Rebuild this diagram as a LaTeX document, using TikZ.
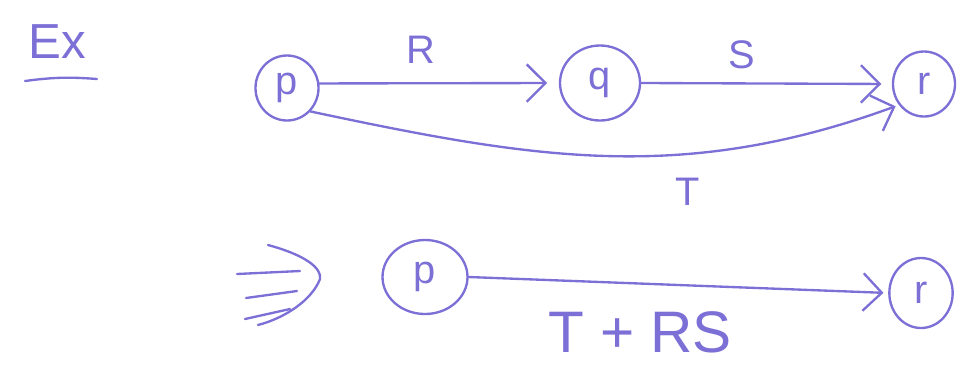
\documentclass[tikz,border=0pt]{standalone}
\usepackage{fontspec}
\setmainfont{Liberation Sans}
\usetikzlibrary{arrows.meta,shapes.geometric}
\definecolor{ink}{RGB}{124,112,214}
\begin{document}
\begin{tikzpicture}[x=0.03cm,y=-0.03cm,
  pen/.style={draw=ink, line width=2pt, line cap=round, line join=round},
  state/.style={pen, ellipse, inner sep=0pt, text=ink, font=\fontsize{34}{38}\selectfont},
  link/.style={pen, -{Straight Barb[length=16pt,width=32pt,line width=2pt]}},
  lbl/.style={text=ink, font=\fontsize{34}{38}\selectfont}]
\useasboundingbox (0,0) rectangle (964,381);

% heading
\node[lbl, font=\fontsize{42}{46}\selectfont] (ex) at (57,42) {Ex};
\coordinate (ul1) at (25,81);
\coordinate (ul2) at (97,79);
\draw[pen] (ul1) to[bend left=6] (ul2);

% first automaton: p --R--> q --S--> r, and p --T--> r
\node[state, minimum width=1.89cm, minimum height=1.95cm] (p) at (287,88) {p};
\node[state, minimum width=2.4cm, minimum height=2.25cm] (q) at (600,83) {q};
\node[state, minimum width=1.86cm, minimum height=1.95cm] (r) at (924,84) {r};

\draw[link, shorten >=10pt] (p.8) -- (q.west);
\draw[link, shorten >=9pt] (q.east) -- (r.west);
\draw[link, shorten >=3pt] (p.-45) to[out=-12,in=200] (r.-140);

\node[lbl] (lR) at (421,50) {R};
\node[lbl] (lS) at (742,55) {S};
\node[lbl] (lT) at (688,192) {T};

% implication sign
\coordinate (a1) at (237,274); \coordinate (a2) at (300,271);
\coordinate (b1) at (246,298); \coordinate (b2) at (297,291);
\coordinate (c1) at (245,319); \coordinate (c2) at (290,309);
\coordinate (h1) at (268,245); \coordinate (h2) at (320,279); \coordinate (h3) at (258,325);
\draw[pen] (a1) -- (a2);
\draw[pen] (b1) -- (b2);
\draw[pen] (c1) -- (c2);
\draw[pen] (h1) .. controls (305,255) and (322,268) .. (h2) .. controls (312,300) and (285,318) .. (h3);

% reduced automaton: p --(T + RS)--> r
\node[state, minimum width=2.55cm, minimum height=2.22cm] (p2) at (425,277) {p};
\node[state, minimum width=1.9cm, minimum height=2.1cm] (r2) at (921,293) {r};
\draw[link, shorten >=4pt] (p2.east) -- (r2.west);
\node[lbl, font=\fontsize{50}{56}\selectfont] (lTRS) at (640,332) {T + RS};
\end{tikzpicture}
\end{document}
